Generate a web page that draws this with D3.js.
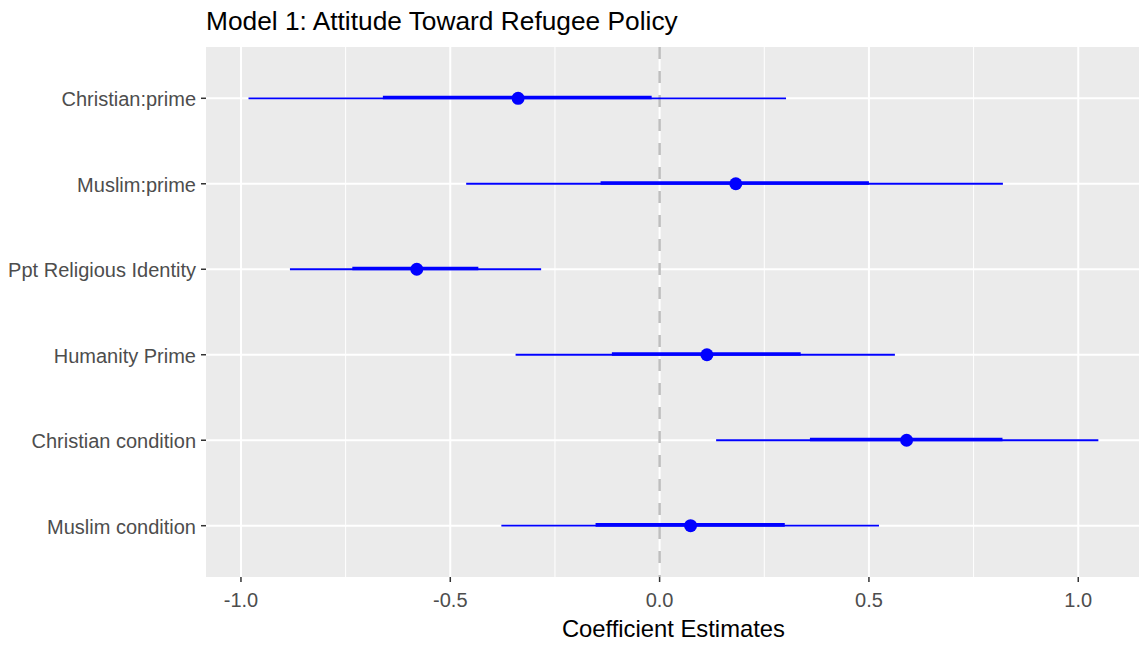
<!DOCTYPE html>
<html>
<head>
<meta charset="utf-8">
<script src="https://cdn.jsdelivr.net/npm/d3@7"></script>
<style>
  html, body { margin: 0; padding: 0; background: #ffffff; }
  svg { display: block; }
  text { font-family: "Liberation Sans", Arial, sans-serif; }
</style>
</head>
<body>
<svg id="chart" width="1139" height="646"></svg>
<script>
// Coefficient plot: point estimates with inner (thick) and outer (thin) intervals
const terms     = ["Christian:prime", "Muslim:prime", "Ppt Religious Identity", "Humanity Prime", "Christian condition", "Muslim condition"];
const estimates = [-0.338, 0.182, -0.580, 0.113, 0.590, 0.074];
const innerLow  = [-0.661, -0.141, -0.734, -0.114, 0.359, -0.153];
const innerHigh = [-0.019, 0.500, -0.433, 0.337, 0.819, 0.299];
const outerLow  = [-0.982, -0.462, -0.883, -0.344, 0.135, -0.378];
const outerHigh = [0.302, 0.820, -0.283, 0.562, 1.048, 0.524];
const xTicks    = [-1.0, -0.5, 0.0, 0.5, 1.0];
const xTickText = ["-1.0", "-0.5", "0.0", "0.5", "1.0"];
const xMinor    = [-0.75, -0.25, 0.25, 0.75];

const titleText  = "Model 1: Attitude Toward Refugee Policy";
const xTitleText = "Coefficient Estimates";

const rows = terms.map((t, i) => ({
  term: t, est: estimates[i],
  lo1: innerLow[i], hi1: innerHigh[i],
  lo2: outerLow[i], hi2: outerHigh[i]
}));

const svg = d3.select("#chart");
const panel = { left: 206, top: 47, bottom: 577 };

// continuous axis with 5% expansion on both sides of the data range
const dMin = d3.min(outerLow), dMax = d3.max(outerHigh);
const pad = (dMax - dMin) * 0.05;
const unit = 418.65;
const domain = [dMin - pad, dMax + pad];
panel.right = panel.left + (domain[1] - domain[0]) * unit;

const x = d3.scaleLinear().domain(domain).range([panel.left, panel.right]);
const y = d3.scalePoint().domain(terms).range([panel.top, panel.bottom]).padding(0.6);

// panel background
svg.append("rect")
  .attr("x", panel.left).attr("y", panel.top)
  .attr("width", panel.right - panel.left).attr("height", panel.bottom - panel.top)
  .attr("fill", "#EBEBEB");

// grid lines
const grid = svg.append("g");
grid.selectAll("line.minor").data(xMinor).join("line")
  .attr("x1", d => x(d)).attr("x2", d => x(d))
  .attr("y1", panel.top).attr("y2", panel.bottom)
  .attr("stroke", "#ffffff").attr("stroke-width", 1);
grid.selectAll("line.majorx").data(xTicks).join("line")
  .attr("x1", d => x(d)).attr("x2", d => x(d))
  .attr("y1", panel.top).attr("y2", panel.bottom)
  .attr("stroke", "#ffffff").attr("stroke-width", 2);
grid.selectAll("line.majory").data(terms).join("line")
  .attr("x1", panel.left).attr("x2", panel.right)
  .attr("y1", d => y(d)).attr("y2", d => y(d))
  .attr("stroke", "#ffffff").attr("stroke-width", 2);

// reference line at zero
svg.append("line")
  .attr("x1", x(0)).attr("x2", x(0))
  .attr("y1", panel.top).attr("y2", panel.bottom)
  .attr("stroke", "#BEBEBE").attr("stroke-width", 2.5)
  .attr("stroke-dasharray", "12,12");

// intervals and points
const marks = svg.append("g");
marks.selectAll("line.outer").data(rows).join("line")
  .attr("x1", d => x(d.lo2)).attr("x2", d => x(d.hi2))
  .attr("y1", d => y(d.term)).attr("y2", d => y(d.term))
  .attr("stroke", "#0000FF").attr("stroke-width", 1.8);
marks.selectAll("line.inner").data(rows).join("line")
  .attr("x1", d => x(d.lo1)).attr("x2", d => x(d.hi1))
  .attr("y1", d => y(d.term) - 0.8).attr("y2", d => y(d.term) - 0.8)
  .attr("stroke", "#0000FF").attr("stroke-width", 3.6);
marks.selectAll("circle").data(rows).join("circle")
  .attr("cx", d => x(d.est)).attr("cy", d => y(d.term))
  .attr("r", 6.5).attr("fill", "#0000FF");

// x axis
const xAxis = svg.append("g").attr("transform", `translate(0,${panel.bottom})`);
xAxis.selectAll("line").data(xTicks).join("line")
  .attr("x1", d => x(d)).attr("x2", d => x(d))
  .attr("y1", 0).attr("y2", 5)
  .attr("stroke", "#333333").attr("stroke-width", 1.5);
xAxis.selectAll("text").data(xTicks).join("text")
  .attr("x", d => x(d)).attr("y", 30)
  .attr("text-anchor", "middle")
  .attr("font-size", 20).attr("fill", "#4D4D4D")
  .text((d, i) => xTickText[i]);

// y axis
const yAxis = svg.append("g").attr("transform", `translate(${panel.left},0)`);
yAxis.selectAll("line").data(terms).join("line")
  .attr("x1", -5).attr("x2", 0)
  .attr("y1", d => y(d)).attr("y2", d => y(d))
  .attr("stroke", "#333333").attr("stroke-width", 1.5);
yAxis.selectAll("text").data(terms).join("text")
  .attr("x", -10).attr("y", d => y(d) + 1)
  .attr("dy", "0.35em")
  .attr("text-anchor", "end")
  .attr("font-size", 20).attr("fill", "#4D4D4D")
  .text(d => d);

// titles
svg.append("text")
  .attr("x", panel.left).attr("y", 30)
  .attr("font-size", 26.3).attr("fill", "#000000")
  .text(titleText);
svg.append("text")
  .attr("x", (panel.left + panel.right) / 2).attr("y", 637)
  .attr("text-anchor", "middle")
  .attr("font-size", 23.8).attr("fill", "#000000")
  .text(xTitleText);
</script>
</body>
</html>
